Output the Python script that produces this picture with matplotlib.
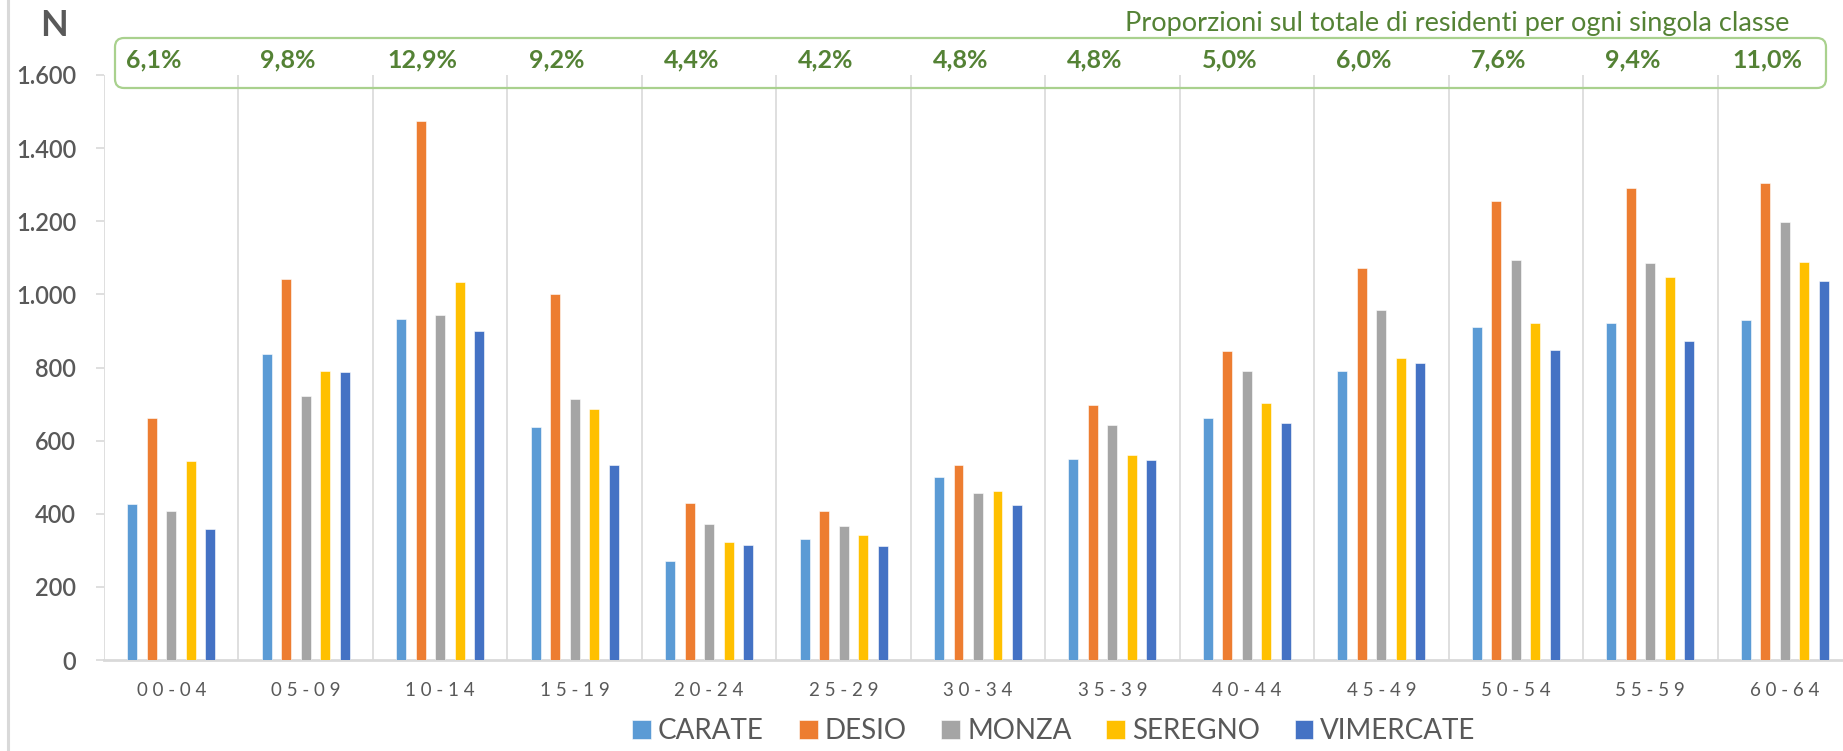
import matplotlib
matplotlib.use("Agg")
import matplotlib.pyplot as plt
import numpy as np
from matplotlib.patches import FancyBboxPatch
from matplotlib.transforms import IdentityTransform, blended_transform_factory
from matplotlib.lines import Line2D

# ---- data ----
categories = ["00-04", "05-09", "10-14", "15-19", "20-24", "25-29", "30-34",
              "35-39", "40-44", "45-49", "50-54", "55-59", "60-64"]
carate    = [426, 837, 933, 637, 270, 332, 501, 550, 663, 791, 911, 921, 929]
desio     = [663, 1041, 1475, 1001, 430, 407, 533, 698, 846, 1072, 1255, 1290, 1304]
monza     = [407, 722, 943, 714, 371, 367, 456, 644, 791, 957, 1093, 1087, 1199]
seregno   = [543, 791, 1033, 686, 322, 343, 462, 560, 703, 827, 921, 1048, 1089]
vimercate = [357, 788, 900, 533, 314, 311, 424, 546, 648, 813, 848, 873, 1036]
series_names = ["CARATE", "DESIO", "MONZA", "SEREGNO", "VIMERCATE"]
proportions = ["6,1%", "9,8%", "12,9%", "9,2%", "4,4%", "4,2%", "4,8%",
               "4,8%", "5,0%", "6,0%", "7,6%", "9,4%", "11,0%"]
yticks = [0, 200, 400, 600, 800, 1000, 1200, 1400, 1600]
ytick_labels = ["0", "200", "400", "600", "800", "1.000", "1.200", "1.400", "1.600"]
title_text = "Proporzioni sul totale di residenti per ogni singola classe"

colors = ["#5B9BD5", "#ED7D31", "#A5A5A5", "#FFC000", "#4472C4"]
GREEN = "#548235"
GRAY_TXT = "#595959"
GRID = "#D9D9D9"
FONT = ["Lato", "DejaVu Sans"]

plt.rcParams['font.family'] = FONT

W, H = 1843, 751
fig = plt.figure(figsize=(W / 100, H / 100), dpi=100)
fig.patch.set_facecolor("white")

ax = fig.add_axes([104 / W, (H - 660) / H, 1748 / W, (660 - 75) / H])

values = [carate, desio, monza, seregno, vimercate]
x = np.arange(len(categories))
spacing = 0.145
bw = 0.074
for j, (name, vals, c) in enumerate(zip(series_names, values, colors)):
    ax.bar(x + (j - 2) * spacing, vals, width=bw, color=c, label=name,
           edgecolor="white", linewidth=0.4, zorder=3)

ax.set_xlim(-0.5, len(categories) - 0.5)
ax.set_ylim(0, 1600)

# category boundary gridlines
for b in np.arange(-0.5, len(categories) + 0.5, 1.0):
    ax.axvline(b, color=GRID, lw=1.2, zorder=1)

for s in ["top", "right", "left"]:
    ax.spines[s].set_visible(False)
ax.spines["bottom"].set_color(GRID)
ax.spines["bottom"].set_linewidth(2)

ax.set_yticks(yticks)
ax.set_yticklabels(ytick_labels)
ax.tick_params(axis="y", length=6, width=1.2, color=GRID, pad=14,
               labelsize=17, labelcolor=GRAY_TXT)
for lab in ax.get_yticklabels():
    lab.set_fontweight("semibold")
ax.set_xticks(x)
ax.set_xticklabels([" ".join(list(c)) for c in categories])
ax.tick_params(axis="x", length=0, pad=16, labelsize=13.5, labelcolor=GRAY_TXT)

# left chart border
fig.add_artist(Line2D([8 / W, 8 / W], [0, 1], color=GRID, lw=2.2))

# "N" label
fig.text(40 / W, (H - 25) / H, "N", fontsize=26, fontweight="bold",
         color=GRAY_TXT, ha="left", va="center")

# green rounded box
box = FancyBboxPatch((115, H - 88), 1711, 50,
                     boxstyle="round,pad=0,rounding_size=9",
                     transform=IdentityTransform(), facecolor="none",
                     edgecolor="#A9D18E", linewidth=1.6)
fig.patches.append(box)

# proportion labels
tr = blended_transform_factory(ax.transData, fig.transFigure)
for i, p in enumerate(proportions):
    ax.text(i - 0.13, (H - 60) / H, p, transform=tr, ha="center", va="center",
            fontsize=18, fontweight="bold", color=GREEN, clip_on=False)

# title
fig.text(1789 / W, (H - 24) / H, title_text, fontsize=19.5, color=GREEN,
         ha="right", va="center")

# legend
leg = fig.legend(loc="center", bbox_to_anchor=(1054 / W, 20 / H), ncol=5,
                 frameon=False, fontsize=20, handlelength=0.68,
                 handleheight=0.68, handletextpad=0.25, columnspacing=1.25,
                 labelcolor=GRAY_TXT)

fig.savefig("out.png", dpi=100)
